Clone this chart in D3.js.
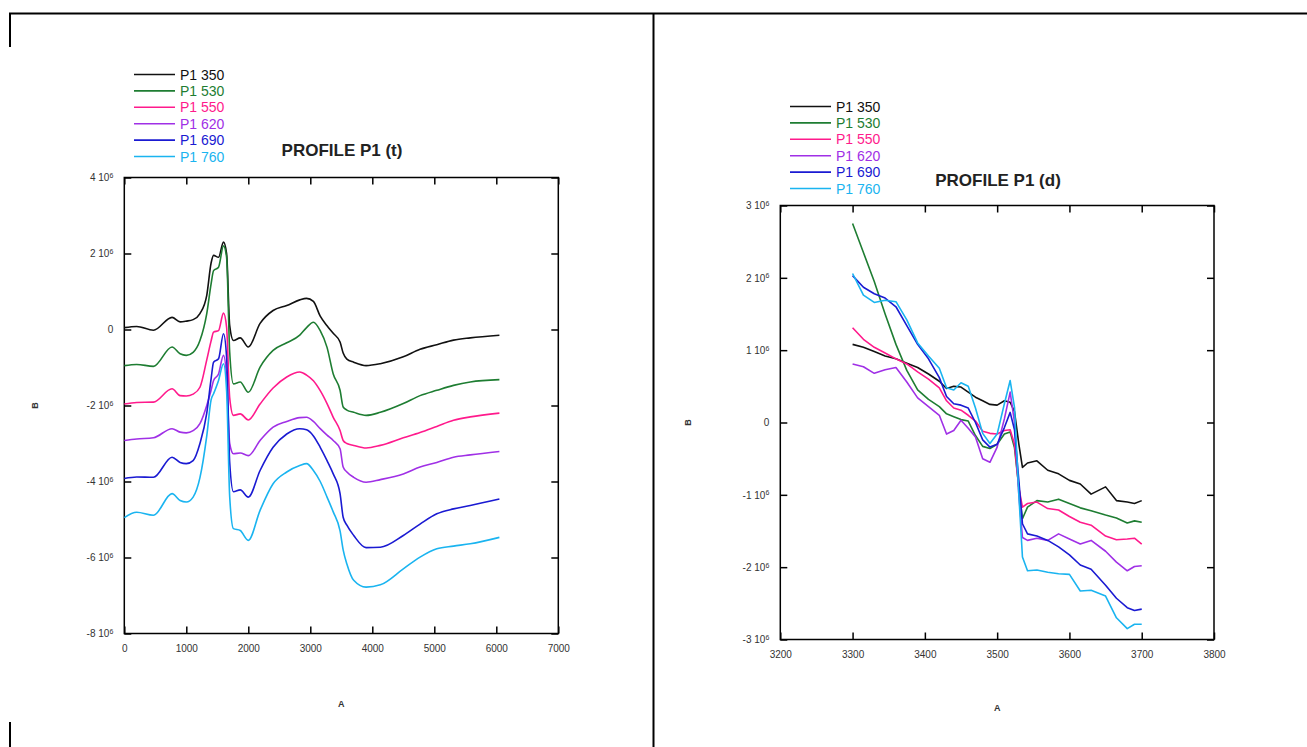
<!DOCTYPE html>
<html><head><meta charset="utf-8">
<script src="https://cdn.jsdelivr.net/npm/d3@7"></script>
<style>body{margin:0;background:#fff}svg{display:block;font-family:"Liberation Sans",Arial,sans-serif}</style>
</head><body><svg id="c" width="1307" height="747"></svg>
<script>
// ---------- DATA (values in units of 10^6) ----------
const seriesNames = ["P1 350","P1 530","P1 550","P1 620","P1 690","P1 760"];
const seriesColors = ["#111111","#1e7d32","#ff1a8c","#a030e6","#1a1ad2","#1ab4f0"];

// Left chart: PROFILE P1 (t)
const leftTitle = "PROFILE P1 (t)";
const leftX = [0,200,470,770,900,1000,1110,1220,1330,1400,1440,1520,1600,1650,1700,1760,1870,2000,2190,2400,2620,2830,2940,3050,3160,3270,3370,3480,3530,3590,3700,3900,4130,4500,4770,5040,5310,5580,6050];
const left350 = [0.05,0.08,-0.02,0.32,0.2,0.22,0.26,0.42,0.9,1.75,1.95,1.9,2.3,2.0,0.1,-0.29,-0.22,-0.46,0.16,0.5,0.63,0.78,0.82,0.74,0.35,0.1,-0.1,-0.33,-0.62,-0.78,-0.86,-0.95,-0.9,-0.72,-0.52,-0.4,-0.28,-0.22,-0.15];
const left530 = [-0.95,-0.92,-0.97,-0.46,-0.64,-0.68,-0.6,-0.29,0.42,1.2,1.55,1.64,2.2,1.9,-0.6,-1.43,-1.38,-1.65,-0.99,-0.55,-0.35,-0.15,0.05,0.19,-0.03,-0.47,-1.17,-1.6,-2.04,-2.12,-2.18,-2.26,-2.18,-1.95,-1.74,-1.6,-1.47,-1.38,-1.32];
const left550 = [-1.96,-1.92,-1.91,-1.56,-1.74,-1.75,-1.7,-1.52,-0.8,-0.3,-0.07,-0.03,0.43,0.06,-1.8,-2.26,-2.22,-2.38,-1.96,-1.54,-1.25,-1.12,-1.2,-1.35,-1.61,-1.95,-2.31,-2.66,-2.92,-3.0,-3.05,-3.12,-3.05,-2.85,-2.71,-2.55,-2.39,-2.3,-2.2];
const left620 = [-2.92,-2.88,-2.85,-2.61,-2.7,-2.72,-2.66,-2.48,-2.0,-1.6,-1.34,-1.17,-0.68,-1.25,-3.0,-3.27,-3.25,-3.32,-2.92,-2.57,-2.42,-2.32,-2.31,-2.42,-2.61,-2.78,-2.92,-3.14,-3.62,-3.75,-3.89,-4.02,-3.95,-3.8,-3.62,-3.5,-3.36,-3.3,-3.21];
const left690 = [-3.92,-3.88,-3.89,-3.36,-3.5,-3.53,-3.45,-3.0,-2.2,-1.3,-0.86,-0.77,-0.11,-0.73,-3.5,-4.27,-4.22,-4.41,-3.71,-3.1,-2.75,-2.61,-2.64,-2.8,-3.1,-3.45,-3.8,-4.32,-4.94,-5.15,-5.42,-5.74,-5.73,-5.42,-5.12,-4.85,-4.72,-4.63,-4.46];
const left760 = [-4.95,-4.81,-4.89,-4.32,-4.5,-4.54,-4.41,-3.9,-2.8,-1.85,-1.69,-1.34,-0.9,-1.61,-4.4,-5.24,-5.29,-5.55,-4.76,-4.06,-3.75,-3.58,-3.53,-3.71,-4.0,-4.41,-4.8,-5.3,-5.8,-6.17,-6.6,-6.78,-6.72,-6.3,-5.99,-5.77,-5.7,-5.64,-5.47];
const leftXTicks = [0,1000,2000,3000,4000,5000,6000,7000];
const leftYTicks = [-8,-6,-4,-2,0,2,4];
const leftYTickLabels = ["-8 10","-6 10","-4 10","-2 10","0","2 10","4 10"];

// Right chart: PROFILE P1 (d)
const rightTitle = "PROFILE P1 (d)";
const rightX = [3300,3315,3330,3345,3360,3375,3390,3405,3420,3430,3440,3450,3460,3470,3480,3490,3500,3510,3518,3524,3530,3535,3542,3555,3570,3585,3600,3615,3630,3650,3665,3680,3690,3700];
const right350 = [1.08,1.04,0.98,0.92,0.88,0.82,0.76,0.67,0.57,0.47,0.5,0.49,0.42,0.35,0.3,0.25,0.24,0.3,0.28,0.15,-0.3,-0.62,-0.56,-0.53,-0.66,-0.71,-0.8,-0.85,-0.99,-0.89,-1.08,-1.1,-1.12,-1.08];
const right530 = [2.75,2.35,1.95,1.5,1.08,0.72,0.45,0.32,0.22,0.12,0.08,0.04,0.02,-0.18,-0.33,-0.36,-0.3,-0.16,-0.13,-0.35,-0.9,-1.33,-1.17,-1.08,-1.1,-1.06,-1.12,-1.18,-1.22,-1.28,-1.32,-1.39,-1.36,-1.38];
const right550 = [1.31,1.15,1.04,0.96,0.88,0.81,0.7,0.6,0.48,0.3,0.2,0.17,0.1,0.02,-0.12,-0.15,-0.16,-0.11,-0.1,-0.3,-0.9,-1.17,-1.12,-1.1,-1.19,-1.21,-1.3,-1.38,-1.42,-1.57,-1.62,-1.61,-1.6,-1.68];
const right620 = [0.81,0.77,0.68,0.73,0.76,0.56,0.34,0.22,0.1,-0.16,-0.11,0.03,-0.08,-0.2,-0.5,-0.55,-0.34,0.05,0.42,0.0,-1.0,-1.59,-1.63,-1.6,-1.63,-1.54,-1.61,-1.68,-1.63,-1.78,-1.93,-2.05,-1.99,-1.98];
const right690 = [2.03,1.87,1.78,1.72,1.6,1.34,1.08,0.88,0.62,0.36,0.26,0.24,0.2,0.0,-0.24,-0.34,-0.3,-0.07,0.14,-0.1,-0.8,-1.4,-1.54,-1.57,-1.63,-1.72,-1.83,-1.97,-2.03,-2.25,-2.43,-2.56,-2.6,-2.58];
const right760 = [2.06,1.76,1.66,1.69,1.67,1.42,1.1,0.92,0.75,0.48,0.45,0.55,0.5,0.2,-0.15,-0.29,-0.16,0.26,0.58,0.21,-1.0,-1.86,-2.05,-2.04,-2.07,-2.09,-2.1,-2.33,-2.32,-2.4,-2.7,-2.85,-2.79,-2.79];
const rightXTicks = [3200,3300,3400,3500,3600,3700,3800];
const rightYTicks = [-3,-2,-1,0,1,2,3];
const rightYTickLabels = ["-3 10","-2 10","-1 10","0","1 10","2 10","3 10"];

const exponentLabel = "6";
const xAxisLabel = "A", yAxisLabel = "B";

// ---------- DRAWING ----------
const svg = d3.select("#c");

// page frame lines
const frame = svg.append("g").attr("stroke","#000").attr("stroke-width",2);
frame.append("line").attr("x1",9).attr("x2",1307).attr("y1",13.5).attr("y2",13.5);
frame.append("line").attr("x1",10).attr("x2",10).attr("y1",13).attr("y2",47);
frame.append("line").attr("x1",10).attr("x2",10).attr("y1",722).attr("y2",747);
frame.append("line").attr("x1",653.5).attr("x2",653.5).attr("y1",13).attr("y2",747);

function drawPanel(cfg){
  const g = svg.append("g");
  const x = d3.scaleLinear().domain(cfg.xDomain).range([cfg.left, cfg.right]);
  const y = d3.scaleLinear().domain(cfg.yDomain).range([cfg.bottom, cfg.top]);

  g.append("rect").attr("x",cfg.left).attr("y",cfg.top)
    .attr("width",cfg.right-cfg.left).attr("height",cfg.bottom-cfg.top)
    .attr("fill","none").attr("stroke","#000").attr("stroke-width",1.5);

  const styleAxis = sel => {
    sel.select(".domain").remove();
    sel.selectAll(".tick line").attr("stroke","#000").attr("stroke-width",1.5);
    sel.selectAll("text").attr("fill","#333").attr("font-size",10)
      .attr("font-family","'Liberation Sans',Arial,sans-serif");
  };

  const xb = g.append("g").attr("transform",`translate(0,${cfg.bottom})`)
    .call(d3.axisBottom(x).tickValues(cfg.xTicks).tickSize(-7).tickPadding(11).tickFormat(d3.format("d")));
  styleAxis(xb);
  const xt = g.append("g").attr("transform",`translate(0,${cfg.top})`)
    .call(d3.axisTop(x).tickValues(cfg.xTicks).tickSize(-7).tickFormat(""));
  styleAxis(xt);
  const yl = g.append("g").attr("transform",`translate(${cfg.left},0)`)
    .call(d3.axisLeft(y).tickValues(cfg.yTicks).tickSize(-7).tickPadding(11).tickFormat(""));
  styleAxis(yl);
  yl.selectAll(".tick").each(function(d,i){
    const t = d3.select(this).select("text");
    t.text(null);
    const lab = cfg.yTickLabels[i];
    t.append("tspan").text(lab);
    if (lab !== "0") t.append("tspan").attr("dy","-0.45em").attr("font-size",7).text(exponentLabel);
  });
  const yr = g.append("g").attr("transform",`translate(${cfg.right},0)`)
    .call(d3.axisRight(y).tickValues(cfg.yTicks).tickSize(-7).tickFormat(""));
  styleAxis(yr);

  const line = d3.line().x(d=>x(d[0])).y(d=>y(d[1])).curve(cfg.curve);
  cfg.series.forEach((vals,i)=>{
    g.append("path").datum(cfg.xs.map((xv,j)=>[xv,vals[j]]))
      .attr("d",line).attr("fill","none").attr("stroke",seriesColors[i])
      .attr("stroke-width",1.6).attr("stroke-linejoin","round");
  });

  g.append("text").attr("x",cfg.titleX).attr("y",cfg.titleY).attr("text-anchor","middle")
    .attr("font-size",17).attr("font-weight","bold").attr("fill","#222").text(cfg.title);

  g.append("text").attr("x",(cfg.left+cfg.right)/2).attr("y",cfg.xLabelY).attr("text-anchor","middle")
    .attr("font-size",9).attr("font-weight","bold").attr("fill","#333").text(xAxisLabel);
  g.append("text").attr("transform",`translate(${cfg.yLabelX},${(cfg.top+cfg.bottom)/2}) rotate(-90)`)
    .attr("text-anchor","middle").attr("font-size",9).attr("font-weight","bold").attr("fill","#333").text(yAxisLabel);

  const lg = g.append("g");
  seriesNames.forEach((n,i)=>{
    const yy = cfg.legendY + i*16.4;
    lg.append("line").attr("x1",cfg.legendX).attr("x2",cfg.legendX+41).attr("y1",yy).attr("y2",yy)
      .attr("stroke",seriesColors[i]).attr("stroke-width",1.6);
    lg.append("text").attr("x",cfg.legendX+46).attr("y",yy).attr("dy","0.36em")
      .attr("font-size",14).attr("fill",seriesColors[i]).text(n);
  });
}

drawPanel({
  left:124.3,right:558.3,top:177.5,bottom:633.5,
  xDomain:[0,7000],yDomain:[-8,4],xTicks:leftXTicks,yTicks:leftYTicks,yTickLabels:leftYTickLabels,
  xs:leftX,series:[left350,left530,left550,left620,left690,left760],curve:d3.curveMonotoneX,
  title:leftTitle,titleX:342,titleY:156,xLabelY:707,yLabelX:38,
  legendX:134,legendY:74.5
});
drawPanel({
  left:780.3,right:1214,top:205.5,bottom:639.5,
  xDomain:[3200,3800],yDomain:[-3,3],xTicks:rightXTicks,yTicks:rightYTicks,yTickLabels:rightYTickLabels,
  xs:rightX,series:[right350,right530,right550,right620,right690,right760],curve:d3.curveLinear,
  title:rightTitle,titleX:998,titleY:186,xLabelY:711,yLabelX:691,
  legendX:790,legendY:106.5
});
</script></body></html>
